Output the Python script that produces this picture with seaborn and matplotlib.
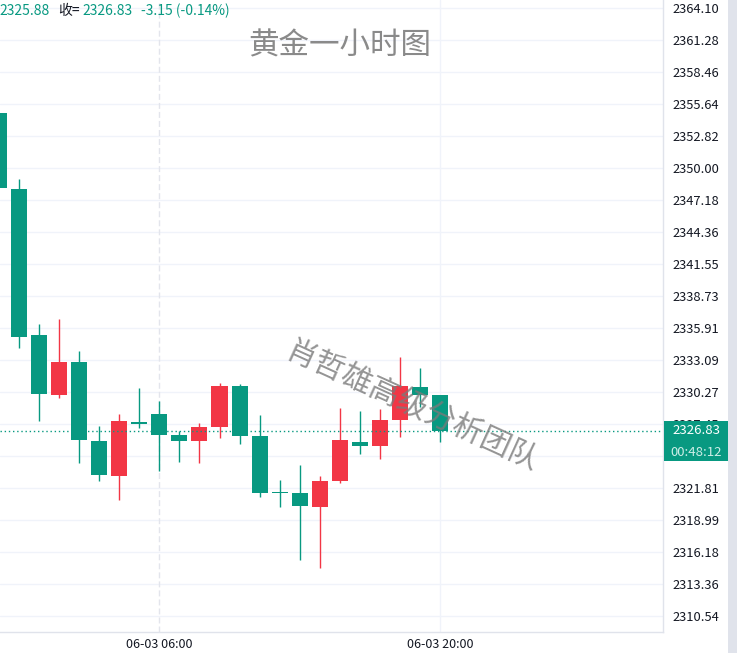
import numpy as np
import pandas as pd
import seaborn as sns
import matplotlib.pyplot as plt
from matplotlib.patches import Rectangle
from matplotlib.transforms import Bbox

# 1h candles, 06-02 22:00 -> 06-03 20:00
hours = ['22:00', '23:00', '00:00', '01:00', '02:00', '03:00', '04:00', '05:00',
         '06:00', '07:00', '08:00', '09:00', '10:00', '11:00', '12:00', '13:00',
         '14:00', '15:00', '16:00', '17:00', '18:00', '19:00', '20:00']
open_ = [2354.88, 2348.16, 2335.30, 2330.04, 2332.92, 2325.97, 2322.91, 2327.67,
         2328.37, 2326.52, 2325.99, 2327.23, 2330.81, 2326.41, 2321.48, 2321.39,
         2320.18, 2322.44, 2325.91, 2325.53, 2327.82, 2330.72, 2329.98]
high = [2356.00, 2349.04, 2336.27, 2336.71, 2333.89, 2327.29, 2328.35, 2330.63,
        2329.49, 2326.85, 2327.55, 2331.08, 2330.99, 2328.26, 2322.53, 2323.85,
        2322.88, 2328.87, 2328.61, 2328.79, 2333.39, 2332.40, 2330.02]
low = [2347.80, 2334.18, 2327.75, 2329.78, 2324.06, 2322.47, 2320.77, 2327.14,
       2323.33, 2324.12, 2324.03, 2326.26, 2325.73, 2321.01, 2320.10, 2315.43,
       2314.81, 2322.30, 2324.85, 2324.38, 2326.35, 2328.99, 2325.88]
close = [2348.27, 2335.15, 2330.13, 2332.92, 2326.08, 2323.00, 2327.73, 2327.46,
         2326.50, 2325.99, 2327.20, 2330.81, 2326.44, 2321.41, 2321.39, 2320.27,
         2322.44, 2326.08, 2325.53, 2327.82, 2330.84, 2330.04, 2326.83]

price_ticks = [2310.54, 2313.36, 2316.18, 2318.99, 2321.81, 2324.63, 2327.45,
               2330.27, 2333.09, 2335.91, 2338.73, 2341.55, 2344.36, 2347.18,
               2350.00, 2352.82, 2355.64, 2358.46, 2361.28, 2364.10]
time_ticks = ['06-03 06:00', '06-03 20:00']
time_tick_idx = [8, 22]

last_price = 2326.83
countdown = '00:48:12'
header_low = '2325.88'
header_change = '-3.15 (-0.14%)'

UP = '#f23645'
DOWN = '#089981'
GRID = '#f0f3fa'
EDGE = '#e0e3eb'
TXT = '#131722'

W, H = 737, 653

df = pd.DataFrame({'hour': hours, 'open': open_, 'high': high, 'low': low, 'close': close})
df['x'] = np.arange(len(df))
df['color'] = np.where(df['close'] >= df['open'], UP, DOWN)
df['bottom'] = df[['open', 'close']].min(axis=1)
df['height'] = (df['close'] - df['open']).abs().clip(lower=0.1)

sns.set_theme(style='white')
plt.rcParams['font.family'] = ['Noto Sans CJK SC', 'DejaVu Sans']


def fx(px):
    return px / W


def fy(py):
    return 1 - py / H


fig = plt.figure(figsize=(W / 100, H / 100), dpi=100)
fig.patch.set_facecolor('white')
ax = fig.add_axes([0, fy(632), fx(663), 632 / H])
ax.set_facecolor('white')

# grid
for t in price_ticks:
    ax.axhline(t, color=GRID, lw=1, zorder=0)
ax.axvline(time_tick_idx[0], color='#e3e5ec', lw=1, ls=(0, (4.3, 2.2)), zorder=0)
ax.axvline(time_tick_idx[1], color=GRID, lw=1, zorder=0)

# candles
ax.vlines(df['x'], df['low'], df['high'], colors=df['color'], lw=1, zorder=2)
ax.bar(df['x'], df['height'], bottom=df['bottom'], width=0.8, color=df['color'],
       linewidth=0, zorder=3)

ax.axhline(last_price, color=DOWN, lw=1, ls=(0, (1, 2)), zorder=4)

ax.set_xlim(0.07, 33.08)
ax.set_ylim(2309.131, 2364.805)

# labels hidden under the last-price box are left out / clipped
hidden = {2324.63}
ax.yaxis.tick_right()
ax.set_yticks(price_ticks)
ax.set_yticklabels(['' if t in hidden else f'{t:.2f}' for t in price_ticks])
ax.set_xticks(time_tick_idx)
ax.set_xticklabels(time_ticks)
ax.tick_params(axis='y', length=0, pad=7, labelsize=9.3, labelcolor=TXT)
ax.tick_params(axis='x', length=0, pad=4, labelsize=9, labelcolor=TXT)

clip = Bbox.from_extents(663, H - 421, W, H)
for lbl, t in zip(ax.get_yticklabels(), price_ticks):
    if t == 2327.45:
        lbl.set_clip_box(clip)
        lbl.set_clip_on(True)

for s in ['top', 'left']:
    ax.spines[s].set_visible(False)
for s in ['right', 'bottom']:
    ax.spines[s].set_color(EDGE)
    ax.spines[s].set_linewidth(1)

# right scroll strip
fig.add_artist(Rectangle((fx(728), 0), fx(9), 1, transform=fig.transFigure,
                         facecolor=EDGE, edgecolor='none', zorder=5))

# last price label
fig.add_artist(Rectangle((fx(664), fy(461)), fx(64), 40 / H, transform=fig.transFigure,
                         facecolor=DOWN, edgecolor='none', zorder=5))
fig.text(fx(696), fy(431), f'{last_price:.2f}', color='white', fontsize=9.5,
         ha='center', va='center', zorder=6)
fig.text(fx(696), fy(452), countdown, color='#cdeee7', fontsize=9.5,
         ha='center', va='center', zorder=6)

# header line
fig.text(fx(-1), fy(11), header_low, color=DOWN, fontsize=10, va='center')
fig.text(fx(58), fy(11), '收=', color=TXT, fontsize=10, va='center')
fig.text(fx(82), fy(11), f'{last_price:.2f}', color=DOWN, fontsize=10, va='center')
fig.text(fx(141), fy(11), header_change, color=DOWN, fontsize=10, va='center')

# title and watermark
fig.text(fx(340), fy(46), '黄金一小时图', color='#8a8a8a', fontsize=22,
         ha='center', va='center')
fig.text(fx(412), fy(407), '肖哲雄高级分析团队', color='#7a7a7a', alpha=0.8,
         fontsize=22, ha='center', va='center', rotation=-24.5,
         rotation_mode='anchor', zorder=10)

fig.savefig('out.png', dpi=100)
